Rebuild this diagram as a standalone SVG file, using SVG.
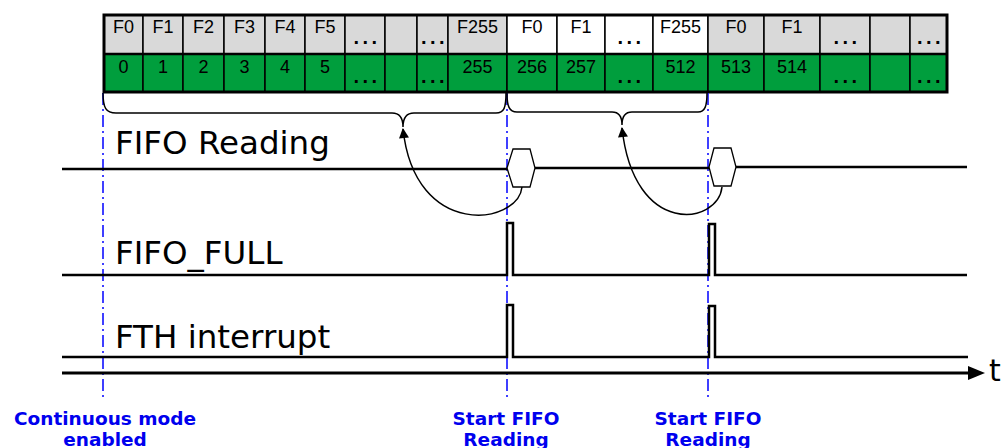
<svg xmlns="http://www.w3.org/2000/svg" width="1002" height="448" viewBox="0 0 1002 448">
<style>
.cell{stroke:#000;stroke-width:1.5}
.g{fill:#d9d9d9}.w{fill:#fff}.gr{fill:#009e3d}
.ct{font-family:"Liberation Sans",Arial,sans-serif;font-size:18px;text-anchor:middle;fill:#000}
.dots{font-family:"Liberation Sans",Arial,sans-serif;font-size:20px;font-weight:bold;text-anchor:middle;fill:#000;letter-spacing:3.5px}
.sig{fill:none;stroke:#000;stroke-width:2.5}
.lbl{font-family:"DejaVu Sans",Verdana,sans-serif;font-size:32.5px;fill:#000}
.mark{fill:none;stroke:#0000ff;stroke-width:1.5;stroke-dasharray:12 4 2 4}
.blue{font-family:"DejaVu Sans",Verdana,sans-serif;font-weight:bold;font-size:18.5px;fill:#0000ee;text-anchor:middle}
.brace{fill:none;stroke:#000;stroke-width:1.5}
.curve{fill:none;stroke:#000;stroke-width:1.5;marker-end:url(#ah)}
.hex{fill:#fff;stroke:#000;stroke-width:1.3}
</style>
<defs>
<marker id="ah" viewBox="0 0 10 10" refX="9" refY="5" markerWidth="11" markerHeight="10" markerUnits="userSpaceOnUse" orient="auto">
<path d="M0,0 L10,5 L0,10 z" fill="#000"/>
</marker>
</defs>

<g id="fifo-table">
<g id="row-top">
<rect class="cell g" x="104" y="15" width="39" height="39"/>
<rect class="cell g" x="143" y="15" width="40" height="39"/>
<rect class="cell g" x="183" y="15" width="41" height="39"/>
<rect class="cell g" x="224" y="15" width="41" height="39"/>
<rect class="cell g" x="265" y="15" width="40" height="39"/>
<rect class="cell g" x="305" y="15" width="40" height="39"/>
<rect class="cell g" x="345" y="15" width="40" height="39"/>
<rect class="cell g" x="385" y="15" width="32" height="39"/>
<rect class="cell g" x="417" y="15" width="31" height="39"/>
<rect class="cell g" x="448" y="15" width="59" height="39"/>
<rect class="cell w" x="507" y="15" width="50" height="39"/>
<rect class="cell w" x="557" y="15" width="48" height="39"/>
<rect class="cell w" x="605" y="15" width="48" height="39"/>
<rect class="cell w" x="653" y="15" width="55" height="39"/>
<rect class="cell g" x="708" y="15" width="56" height="39"/>
<rect class="cell g" x="764" y="15" width="56" height="39"/>
<rect class="cell g" x="820" y="15" width="50" height="39"/>
<rect class="cell g" x="870" y="15" width="40" height="39"/>
<rect class="cell g" x="910" y="15" width="37" height="39"/>
<text class="ct" x="123.5" y="33">F0</text>
<text class="ct" x="163" y="33">F1</text>
<text class="ct" x="203.5" y="33">F2</text>
<text class="ct" x="244.5" y="33">F3</text>
<text class="ct" x="285" y="33">F4</text>
<text class="ct" x="325" y="33">F5</text>
<text class="dots" x="367" y="44">...</text>
<text class="dots" x="434.5" y="44">...</text>
<text class="ct" x="477.5" y="33">F255</text>
<text class="ct" x="532" y="33">F0</text>
<text class="ct" x="581" y="33">F1</text>
<text class="dots" x="631" y="44">...</text>
<text class="ct" x="680.5" y="33">F255</text>
<text class="ct" x="736" y="33">F0</text>
<text class="ct" x="792" y="33">F1</text>
<text class="dots" x="847" y="44">...</text>
<text class="dots" x="930.5" y="44">...</text>
</g>
<g id="row-bottom">
<rect class="cell gr" x="104" y="54" width="39" height="38"/>
<rect class="cell gr" x="143" y="54" width="40" height="38"/>
<rect class="cell gr" x="183" y="54" width="41" height="38"/>
<rect class="cell gr" x="224" y="54" width="41" height="38"/>
<rect class="cell gr" x="265" y="54" width="40" height="38"/>
<rect class="cell gr" x="305" y="54" width="40" height="38"/>
<rect class="cell gr" x="345" y="54" width="40" height="38"/>
<rect class="cell gr" x="385" y="54" width="32" height="38"/>
<rect class="cell gr" x="417" y="54" width="31" height="38"/>
<rect class="cell gr" x="448" y="54" width="59" height="38"/>
<rect class="cell gr" x="507" y="54" width="50" height="38"/>
<rect class="cell gr" x="557" y="54" width="48" height="38"/>
<rect class="cell gr" x="605" y="54" width="48" height="38"/>
<rect class="cell gr" x="653" y="54" width="55" height="38"/>
<rect class="cell gr" x="708" y="54" width="56" height="38"/>
<rect class="cell gr" x="764" y="54" width="56" height="38"/>
<rect class="cell gr" x="820" y="54" width="50" height="38"/>
<rect class="cell gr" x="870" y="54" width="40" height="38"/>
<rect class="cell gr" x="910" y="54" width="37" height="38"/>
<text class="ct" x="123.5" y="73">0</text>
<text class="ct" x="163" y="73">1</text>
<text class="ct" x="203.5" y="73">2</text>
<text class="ct" x="244.5" y="73">3</text>
<text class="ct" x="285" y="73">4</text>
<text class="ct" x="325" y="73">5</text>
<text class="dots" x="367" y="83">...</text>
<text class="dots" x="434.5" y="83">...</text>
<text class="ct" x="477.5" y="73">255</text>
<text class="ct" x="532" y="73">256</text>
<text class="ct" x="581" y="73">257</text>
<text class="dots" x="631" y="83">...</text>
<text class="ct" x="680.5" y="73">512</text>
<text class="ct" x="736" y="73">513</text>
<text class="ct" x="792" y="73">514</text>
<text class="dots" x="847" y="83">...</text>
<text class="dots" x="930.5" y="83">...</text>
</g>
<line x1="104" y1="54" x2="947" y2="54" stroke="#000" stroke-width="2.5"/>
<rect x="104" y="15" width="843" height="77" fill="none" stroke="#000" stroke-width="3"/>
</g>

<g id="markers">
<line class="mark" x1="103" y1="93" x2="103" y2="400"/>
<line class="mark" x1="507" y1="93" x2="507" y2="400"/>
<line class="mark" x1="708" y1="93" x2="708" y2="400"/>
</g>

<g id="fifo-reading">
<text class="lbl" x="115" y="154">FIFO Reading</text>
<path class="sig" d="M62,169 H508 M534,168 H710 M735,167 H967"/>
<polygon id="hex1" class="hex" points="507,168 513,149 530,149 535,168 530,187 513,187"/>
<polygon id="hex2" class="hex" points="709,167 714,148 731,148 736,167 731,186 714,186"/>
</g>

<g id="fifo-full">
<text class="lbl" x="115" y="264">FIFO_FULL</text>
<path class="sig" d="M62,275 H507 V223 H513 V275 H709 V224 H715 V275 H967"/>
</g>

<g id="fth-interrupt">
<text class="lbl" x="115" y="348">FTH interrupt</text>
<path class="sig" d="M62,357 H507 V305 H513 V357 H709 V306 H715 V357 H968"/>
</g>

<g id="time-axis">
<line x1="62" y1="373" x2="970" y2="373" stroke="#000" stroke-width="3.2"/>
<polygon points="968,366 985,373 968,380" fill="#000"/>
<text x="989" y="381" font-family="DejaVu Sans, Verdana, sans-serif" font-size="30">t</text>
</g>

<g id="connectors">
<path class="brace" d="M103,93 C103,108 106,113 116,113 H392 C400,113 403,118 403,127 C403,118 406,113 414,113 H496 C504,113 506,108 506,93"/>
<path class="brace" d="M507,93 C507,106 509,112 517,112 H612 C619,112 622,117 622,125 C622,117 625,112 632,112 H698 C705,112 707,106 707,93"/>
<path class="curve" d="M522,187 C518,225 415,240 403,129"/>
<path class="curve" d="M722,187 C718,225 634,238 622,128"/>
</g>

<g id="bottom-labels">
<text class="blue" x="105" y="425">Continuous mode</text>
<text class="blue" x="105" y="446">enabled</text>
<text class="blue" x="506" y="425">Start FIFO</text>
<text class="blue" x="506" y="446">Reading</text>
<text class="blue" x="708" y="425">Start FIFO</text>
<text class="blue" x="708" y="446">Reading</text>
</g>
</svg>
